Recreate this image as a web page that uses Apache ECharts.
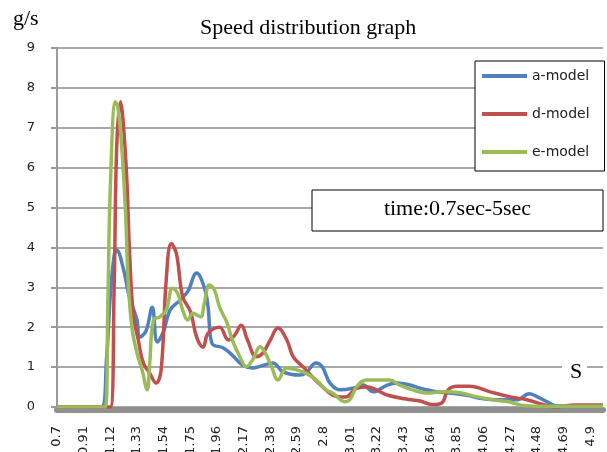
<!DOCTYPE html>
<html><head><meta charset="utf-8">
<script src="https://cdn.jsdelivr.net/npm/echarts@6/dist/echarts.min.js"></script>
<style>html,body{margin:0;padding:0;background:#fff}#c{width:607px;height:452px}</style>
</head><body><div id="c"></div>
<script>
// ---- data (time in s, speed in g/s) ----
const seriesNames = ['a-model', 'd-model', 'e-model'];
const aModel = [[0.7,0],[1.05,0],[1.09,1.2],[1.12,2.8],[1.15,3.8],[1.17,3.93],[1.22,3.5],[1.27,2.76],[1.33,2.18],[1.35,1.75],[1.40,1.9],[1.45,2.5],[1.49,1.63],[1.54,1.9],[1.59,2.43],[1.67,2.68],[1.73,2.9],[1.80,3.36],[1.86,3.0],[1.89,2.5],[1.92,1.6],[2.01,1.48],[2.08,1.3],[2.16,1.05],[2.24,0.98],[2.31,1.03],[2.40,1.1],[2.48,0.88],[2.61,0.8],[2.66,0.85],[2.74,1.1],[2.79,1.0],[2.85,0.6],[2.93,0.43],[3.03,0.47],[3.11,0.55],[3.19,0.38],[3.30,0.55],[3.38,0.6],[3.48,0.55],[3.56,0.47],[3.69,0.38],[3.79,0.35],[3.95,0.28],[4.03,0.22],[4.19,0.18],[4.32,0.18],[4.42,0.33],[4.48,0.26],[4.56,0.13],[4.63,0.03],[4.74,0.02],[5.0,0.03]];
const dModel = [[0.7,0],[1.12,0],[1.15,3.0],[1.17,6.5],[1.20,7.65],[1.22,7.2],[1.25,5.7],[1.27,4.0],[1.30,2.35],[1.34,1.68],[1.38,1.1],[1.43,0.85],[1.48,0.6],[1.52,0.93],[1.56,3.18],[1.60,4.1],[1.64,3.85],[1.69,2.76],[1.75,2.4],[1.80,1.75],[1.85,1.5],[1.89,1.85],[1.98,2.0],[2.05,1.68],[2.10,1.8],[2.15,2.05],[2.20,1.68],[2.27,1.26],[2.32,1.35],[2.38,1.68],[2.44,1.98],[2.51,1.68],[2.56,1.26],[2.64,1.0],[2.71,0.76],[2.79,0.51],[2.87,0.3],[2.97,0.25],[3.06,0.47],[3.14,0.5],[3.30,0.3],[3.45,0.2],[3.56,0.15],[3.66,0.06],[3.73,0.1],[3.78,0.43],[3.85,0.52],[3.95,0.52],[4.11,0.38],[4.26,0.26],[4.40,0.18],[4.52,0.07],[4.62,0],[4.78,0.05],[5.0,0.05]];
const eModel = [[0.7,0],[1.08,0],[1.10,2.5],[1.12,5.5],[1.16,7.65],[1.18,7.5],[1.21,6.5],[1.24,4.85],[1.26,3.18],[1.29,2.0],[1.33,1.35],[1.37,0.93],[1.41,0.43],[1.43,1.1],[1.46,2.18],[1.51,2.26],[1.56,2.43],[1.61,2.98],[1.65,2.85],[1.69,2.43],[1.73,2.18],[1.77,2.35],[1.83,2.26],[1.86,2.6],[1.90,3.06],[1.94,2.93],[1.98,2.51],[2.04,2.1],[2.08,1.68],[2.14,1.26],[2.19,1.01],[2.24,1.18],[2.30,1.51],[2.34,1.35],[2.39,1.01],[2.44,0.68],[2.51,0.98],[2.59,0.93],[2.66,0.85],[2.74,0.68],[2.82,0.43],[2.87,0.35],[2.97,0.13],[3.01,0.2],[3.06,0.51],[3.14,0.68],[3.32,0.68],[3.40,0.55],[3.50,0.43],[3.61,0.35],[3.74,0.38],[3.87,0.36],[4.00,0.26],[4.13,0.18],[4.26,0.13],[4.37,0.04],[4.50,0.02],[5.0,0.02]];
const xTickLabels = [0.7, 0.91, 1.12, 1.33, 1.54, 1.75, 1.96, 2.17, 2.38, 2.59, 2.8, 3.01, 3.22, 3.43, 3.64, 3.85, 4.06, 4.27, 4.48, 4.69, 4.9];
const seriesColors = ['#4F81BD', '#C0504D', '#9BBB59'];
const seriesData = [aModel, dModel, eModel];

const chart = echarts.init(document.getElementById('c'));
const serif = '"Liberation Serif", "Times New Roman", serif';
chart.setOption({
  animation: false,
  backgroundColor: '#fff',
  title: {
    text: 'Speed distribution graph', left: 200, top: 17, padding: 0,
    textStyle: { fontFamily: serif, fontSize: 22, fontWeight: 'normal', color: '#000' }
  },
  grid: { left: 57, right: 4, top: 48, bottom: 45, containLabel: false, outerBoundsMode: 'none' },
  legend: {
    data: seriesNames, orient: 'vertical', left: 475, top: 61,
    padding: [8, 15, 12, 7], itemGap: 24, itemWidth: 45, itemHeight: 4, icon: 'rect',
    borderColor: '#000', borderWidth: 1, backgroundColor: '#fff', selectedMode: false,
    textStyle: { fontFamily: 'DejaVu Sans', fontSize: 14, color: '#222', lineHeight: 14 }
  },
  xAxis: {
    type: 'value', min: 0.7, max: 5.0, offset: 3,
    axisLine: { show: true, onZero: false, lineStyle: { color: '#8f8f8f', width: 6 } },
    axisTick: { show: false },
    splitLine: { show: false },
    axisLabel: {
      customValues: xTickLabels, rotate: 90, margin: 16,
      fontFamily: 'DejaVu Sans', fontSize: 13, color: '#222',
      formatter: v => String(v)
    }
  },
  yAxis: {
    type: 'value', min: 0, max: 9, interval: 1,
    axisLine: { show: true, lineStyle: { color: '#9a9a9a', width: 2 } },
    axisTick: { show: true, length: 6, lineStyle: { color: '#9a9a9a', width: 2 } },
    splitLine: { show: true, lineStyle: { color: '#a8a8a8', width: 2 } },
    axisLabel: { margin: 22, fontFamily: 'DejaVu Sans', fontSize: 13, color: '#222' }
  },
  series: seriesNames.map((name, i) => ({
    name, type: 'line', data: seriesData[i], smooth: 0.4, symbol: 'none',
    color: seriesColors[i], lineStyle: { width: 3.5, color: seriesColors[i] }
  })),
  graphic: [
    { type: 'text', x: 13, y: 19, z: 10, style: { text: 'g/s', font: '22px ' + serif, fill: '#000', textVerticalAlign: 'middle' } },
    { type: 'rect', z: 10, shape: { x: 312, y: 190, width: 291, height: 41 }, style: { fill: '#fff', stroke: '#000', lineWidth: 1 } },
    { type: 'text', z: 11, x: 457.5, y: 209.5, style: { text: 'time:0.7sec-5sec', font: '22px ' + serif, fill: '#000', textAlign: 'center', textVerticalAlign: 'middle' } },
    { type: 'rect', z: 10, shape: { x: 562, y: 360, width: 25, height: 22 }, style: { fill: '#fff' } },
    { type: 'text', z: 11, x: 576, y: 372.5, style: { text: 'S', font: '22px ' + serif, fill: '#000', textAlign: 'center', textVerticalAlign: 'middle' } }
  ]
});
</script>
</body></html>
